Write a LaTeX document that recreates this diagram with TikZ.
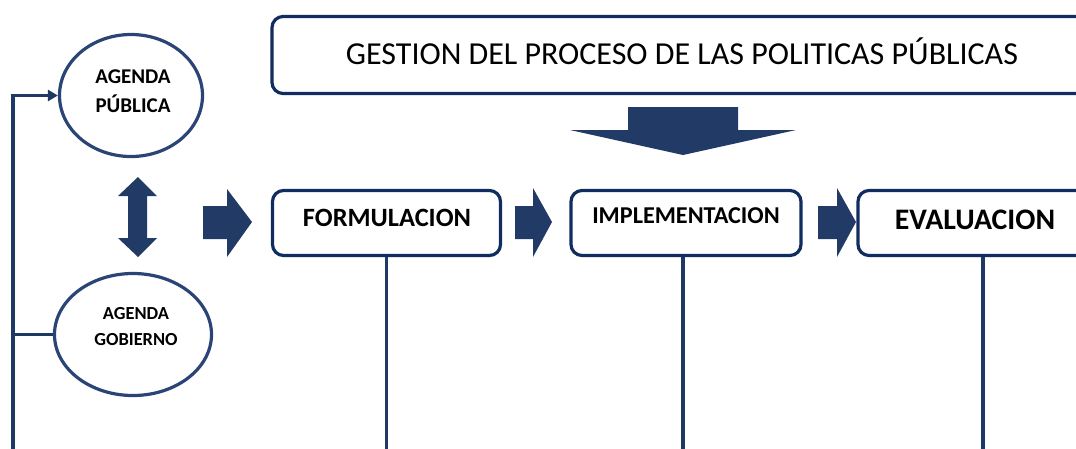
\documentclass[tikz,border=0pt]{standalone}
\usepackage{fontspec}
\setmainfont{Carlito}
\usetikzlibrary{shapes.geometric,arrows.meta}
\definecolor{arrownavy}{HTML}{213A66}
\definecolor{boxnavy}{HTML}{112C5E}
\definecolor{ellnavy}{HTML}{2A4575}
\definecolor{linenavy}{HTML}{1F3864}
\tikzset{
  stagebox/.style={draw=boxnavy, line width=3.2pt, rounded corners=11pt, fill=white, inner sep=0pt},
  agendaell/.style={draw=ellnavy, line width=3.2pt, ellipse, inner sep=0pt, fill=white},
  agendatext/.style={font=\bfseries\fontsize{21}{29}\selectfont, align=center, inner sep=0pt},
  conn/.style={draw=linenavy, line width=3.2pt},
  blockarrow/.style={fill=arrownavy, draw=none},
}
\begin{document}
\begin{tikzpicture}[x=1pt,y=-1pt]
\useasboundingbox (0,0) rectangle (1076,448);
\clip (0,0) rectangle (1076,448);
\fill[white] (0,0) rectangle (1076,448);

% top title box
\node[stagebox, minimum width=830pt, minimum height=77pt] (top) at (687,55) {};
\node[inner sep=0pt, font=\fontsize{32}{38}\selectfont] (toptext) at (682,51) {GESTION DEL PROCESO DE LAS POLITICAS PÚBLICAS};

% down block arrow
\fill[blockarrow] (628,107) -- (738,107) -- (738,130) -- (796,130) -- (683,155) -- (570,130) -- (628,130) -- cycle;

% stage boxes
\node[stagebox, minimum width=228pt, minimum height=65pt] (form) at (386.5,223) {};
\node[inner sep=0pt, font=\bfseries\fontsize{26.4}{30}\selectfont] (formt) at (387,218) {FORMULACION};

\node[stagebox, minimum width=230pt, minimum height=65pt] (impl) at (686,223) {};
\node[inner sep=0pt, font=\bfseries\fontsize{24.2}{28}\selectfont] (implt) at (686,216) {IMPLEMENTACION};

\node[stagebox, minimum width=250pt, minimum height=65pt] (eval) at (983,223) {};
\node[inner sep=0pt, font=\bfseries\fontsize{29.8}{34}\selectfont] (evalt) at (975,220) {EVALUACION};

% right block arrows
\fill[blockarrow] (203,206) -- (227,206) -- (227,189) -- (252,222) -- (227,257) -- (227,239) -- (203,239) -- cycle;
\fill[blockarrow] (515,206) -- (533,206) -- (533,188) -- (552,222) -- (533,257) -- (533,239) -- (515,239) -- cycle;
\fill[blockarrow] (818,206) -- (837,206) -- (837,188) -- (856,222) -- (837,257) -- (837,239) -- (818,239) -- cycle;

% double vertical arrow
\fill[blockarrow] (138,177) -- (157,196) -- (147,196) -- (147,238) -- (157,238) -- (138,257) -- (118,238) -- (128,238) -- (128,196) -- (118,196) -- cycle;

% agenda ellipses
\node[agendaell, minimum width=143pt, minimum height=122pt] (pub) at (131,95.5) {};
\node[agendatext] (pubt) at (133,91) {AGENDA\\PÚBLICA};
\node[agendaell, minimum width=157pt, minimum height=122pt] (gob) at (133,334.5) {};
\node[agendatext, font=\bfseries\fontsize{18.4}{26}\selectfont] (gobt) at (136,327) {AGENDA\\GOBIERNO};

% connectors
\coordinate (lb) at (13,452);
\coordinate (bot) at (0,452);
\draw[conn, -{Triangle[length=10pt,width=11pt]}] (lb) |- (pub.west);
\draw[conn] (gob.west) -- (gob.west -| lb);
\draw[conn] (form.south) -- (form.south |- bot);
\draw[conn] ([xshift=-3pt]impl.south) -- ([xshift=-3pt]impl.south |- bot);
\draw[conn] (eval.south) -- (eval.south |- bot);
\end{tikzpicture}
\end{document}
